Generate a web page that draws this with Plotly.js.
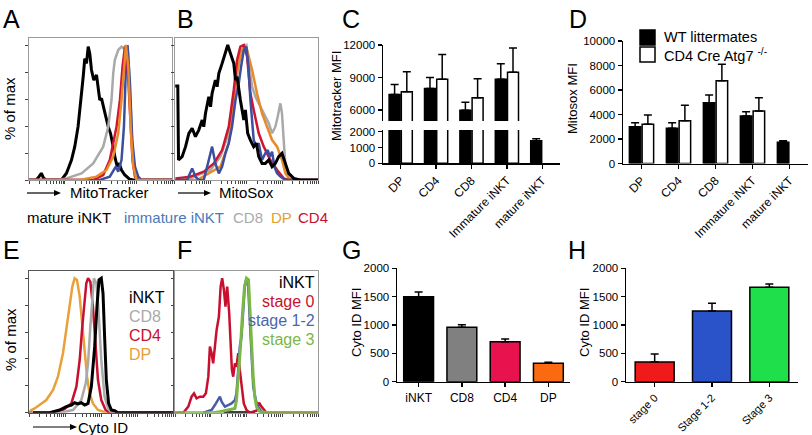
<!DOCTYPE html>
<html>
<head>
<meta charset="utf-8">
<script src="https://cdn.plot.ly/plotly-3.0.1.min.js"></script>
<style>
  html, body { margin: 0; padding: 0; background: #fff; }
  #fig { width: 812px; height: 435px; }
</style>
</head>
<body>
<div id="fig"></div>
<script>
// histogram curves: [channel position 0-100, % of max]
var mtMature = [[0,0],[5.1,0],[7,2.5],[8.6,5],[10.3,1.2],[12.1,0],[22.7,0],[26.2,5],[29.7,14.8],[32,24.7],[34.3,39.5],[36.7,61.7],[37.9,76.5],[39,90],[40.2,86.4],[41.4,98.8],[42.5,93.8],[43.7,81.5],[45.3,74],[47.2,77.8],[48.4,66.7],[49.5,59.3],[50.7,60.5],[52.3,51.9],[53.7,46.9],[55.4,39.5],[57,34.6],[58.9,24.7],[60,17.3],[61.7,9.9],[63.1,12.3],[64.7,7.4],[67,3.7],[70.5,0.5],[72.9,0],[100,0]];
var mtCD8 = [[0,0],[20,0],[26.2,1.2],[36.7,4.9],[44.9,12.3],[51.9,24.7],[55.4,39.5],[57.7,59.3],[58.9,79],[60,88.9],[62.4,96.3],[64.7,98.8],[66.4,97.5],[67.8,100],[69.4,93.8],[71,59.3],[72.4,22.2],[74.1,4.9],[76.4,0],[100,0]];
var mtImmature = [[0,0],[49.5,0],[56.5,2.5],[58.9,7.4],[60.7,9.9],[62.4,6.2],[64.7,14.8],[66.4,39.5],[67.8,84],[68.9,100],[70.6,71.6],[72.2,29.6],[74.1,9.9],[76.4,2.5],[78.7,0],[100,0]];
var mtCD4 = [[0,0],[44.9,0],[51.9,3.7],[56.5,14.8],[61.2,39.5],[63.6,59.3],[65.4,84],[67.1,98.8],[68.7,88.9],[70.6,46.9],[72.4,14.8],[74.1,2.5],[76.4,0],[100,0]];
var mtDP = [[0,0],[35.5,0],[47.2,2.5],[54.2,7.4],[58.9,17.3],[62.4,34.6],[64.7,59.3],[66.4,84],[67.8,100],[69.4,84],[71.3,34.6],[72.9,9.9],[75.2,0],[100,0]];

var msMature = [[0.5,69.6],[2.3,69.6],[2.8,14.8],[5.3,17.3],[7.7,24.7],[10,34.6],[12.3,38.3],[14.6,32.1],[16.9,37],[19.3,44.4],[20.4,39.5],[21.6,49.4],[23.9,61.7],[25.1,54.3],[26.2,64.2],[28.5,74.1],[29.7,69.1],[30.9,79],[33.2,86.4],[35.5,93.8],[37.1,100],[39,93.8],[41.3,86.4],[42.5,74.1],[43.6,76.5],[45.9,59.3],[48.3,44.4],[49.4,51.9],[51,34.6],[52.9,29.6],[55.2,24.7],[57.1,27.2],[58.7,17.3],[61,12.3],[63.3,12.3],[65.7,14.8],[68,9.9],[70.3,12.3],[72.6,17.3],[74.9,19.8],[77.3,12.3],[79.6,4.9],[83.1,1.2],[87.7,0],[100,0]];
var msCD8 = [[0,0],[11.1,1.2],[25.1,7.4],[32,17.3],[37.8,34.6],[41.3,59.3],[43.6,79],[45.9,91.4],[48.3,98.8],[50.1,100],[51.7,88.9],[54.1,69.1],[56.4,61.7],[58.7,56.8],[61,51.9],[63.3,46.9],[65.7,42],[68,34.6],[70.3,39.5],[71.9,46.9],[73.8,56.8],[74.9,49.4],[76.1,29.6],[77.3,9.9],[79.6,1.2],[83.1,0],[100,0]];
var msDP = [[0,0],[15.8,0],[32,9.9],[37.8,27.2],[41.3,54.3],[43.6,79],[45.9,93.8],[48.3,98.8],[50.6,96.3],[54.1,81.5],[57.5,64.2],[61,49.4],[64.5,39.5],[68,29.6],[71.5,24.7],[74.9,14.8],[77.3,4.9],[80.7,0],[100,0]];
var msCD4 = [[0.7,1.2],[11.1,2.5],[20.4,6.2],[27.4,12.3],[33.2,22.2],[37.8,39.5],[41.3,66.7],[43.6,88.9],[45.9,98.8],[48.3,100],[50.6,91.4],[52.9,64.2],[55.2,51.9],[58.7,34.6],[62.2,24.7],[66.8,14.8],[71.5,7.4],[76.1,1.2],[79.6,0],[100,0]];
var msImmature = [[0.7,0],[8.8,0],[12.3,8.6],[14.6,2.5],[16.9,0],[20.4,0],[23.9,14.8],[26.2,24.7],[28.5,12.3],[30.9,4.9],[33.2,9.9],[35.5,19.8],[37.8,27.2],[40.1,39.5],[42.5,59.3],[44.8,71.6],[46.4,84],[48.3,96.3],[50.1,98.8],[51.5,84],[52.9,59.3],[54.1,44.4],[55.2,29.6],[57.1,24.7],[58.7,27.2],[61,14.8],[63.3,19.8],[65,22.2],[66.4,17.3],[68,21],[69.6,9.9],[71.5,4.9],[73.8,2.5],[77.3,0],[100,0]];

var cyDP = [[0,0],[1.6,2],[3.9,3.2],[7.4,5.7],[12,9.4],[16.7,16.9],[20.1,26.8],[23.6,44.2],[25.9,61.5],[28.2,78.9],[30.1,93.8],[31.7,100],[33.3,98.8],[35.2,86.4],[37,66.5],[38.7,44.2],[40.3,26.8],[42.1,14.4],[44.4,6.9],[47.9,2],[53.7,0],[100,0]];
var cyCD4 = [[0,0],[14.4,0],[23.6,2],[29.4,6.9],[32.9,19.4],[35.2,39.2],[37,64],[38.7,83.9],[39.8,96.3],[41,100],[42.6,97.5],[44.4,78.9],[46.3,44.2],[47.9,24.3],[50.2,9.4],[53.2,2],[56,0],[100,0]];
var cyCD8 = [[0,0],[21.3,0],[30.6,2],[36.3,9.4],[39.4,21.8],[41,36.7],[42.6,64],[44,88.8],[45.1,100],[46.8,96.3],[48.1,78.9],[50.2,39.2],[52.5,11.9],[54.9,3.2],[57.2,0],[100,0]];
var cyINKT = [[2.8,0],[14.4,0],[21.3,2],[25.9,4.5],[29.4,5.7],[31.7,7.4],[34,6.5],[36.3,7.4],[38.7,5.7],[41,6.9],[43.3,19.4],[45.6,49.1],[47.2,78.9],[48.6,98.8],[50.2,100],[51.4,88.8],[52.5,56.6],[53.7,24.3],[55.3,6.9],[57.2,2],[59.5,1.5],[61.8,0],[100,0]];

var stStage0 = [[0,0],[5.8,0],[9.3,4.5],[11.6,11.9],[13.3,14.4],[15.1,10.7],[17.4,11.9],[19.8,11.9],[21.6,14.4],[23.3,26.8],[24.4,49.1],[25.6,44.2],[26.7,36.7],[27.9,49.1],[29.1,61.5],[30.7,71.5],[31.9,93.8],[33,100],[34.2,91.3],[35.3,78.9],[36.5,93.8],[37.9,73.9],[38.8,56.6],[39.8,31.8],[40.7,26.8],[41.9,36.7],[43,34.2],[44.2,44.2],[45.3,31.8],[46.5,19.4],[48.1,6.9],[50,2],[52.3,0],[57,1.5],[58.8,7.4],[60.5,4.5],[61.6,3.2],[64,0],[100,0]];
var stStage12 = [[19.8,0],[25.6,2],[27.9,5.7],[30.2,9.4],[31.4,11.9],[32.6,8.2],[34.9,4.5],[37.2,5.7],[39.5,6.9],[41.9,9.4],[43,14.4],[44.2,31.8],[45.3,49.1],[46.5,56.6],[47.7,73.9],[48.8,93.8],[50,100],[51.2,93.8],[52.3,69],[53.5,39.2],[54.7,19.4],[56.5,9.4],[58.1,4.5],[60.5,0.7],[64,0]];
var stStage3 = [[0,0],[26.7,0],[31.4,0.7],[36,2],[39.5,2.5],[41.9,3.2],[43,9.4],[44.2,24.3],[45.8,49.1],[47.2,73.9],[48.6,93.8],[50,100],[51.4,98.8],[52.3,78.9],[53.5,49.1],[54.7,26.8],[55.8,11.9],[57,4.5],[59.3,0.7],[66.3,0],[100,0]];
var stINKT = [[34,0],[56,0]];

// bar data
var cellTypes = ['DP', 'CD4', 'CD8', 'Immature iNKT', 'mature iNKT'];
var mitotrackerWT = [7450, 8000, 6000, 8860, 1430];
var mitotrackerWTErr = [920, 1020, 740, 1420, 130];
var mitotrackerKO = [7690, 8860, 7140, 9510, null];
var mitotrackerKOErr = [1850, 2280, 1760, 2240, 0];
var mitosoxWT = [3000, 2870, 4960, 3880, 1730];
var mitosoxWTErr = [330, 460, 630, 350, 130];
var mitosoxKO = [3200, 3490, 6760, 4290, null];
var mitosoxKOErr = [760, 1260, 1340, 1080, 0];
var cytoCells = ['iNKT', 'CD8', 'CD4', 'DP'];
var cytoCellMFI = [1500, 960, 705, 325];
var cytoCellErr = [82, 45, 48, 17];
var cytoCellColors = ['#000000', '#808080', '#e8124e', '#fb6a10'];
var stages = ['stage 0', 'Stage 1-2', 'Stage 3'];
var stageMFI = [347, 1247, 1665];
var stageErr = [142, 136, 58];
var stageColors = ['#f01a1a', '#2a52c9', '#1fe04a'];

var FONT = 'Arial, "Liberation Sans", sans-serif';
var W = 812, H = 435;
function px(p) { return p / W; }
function py(p) { return 1 - p / H; }

function curve(pts, color, width, xa, ya) {
  return {
    x: pts.map(function (p) { return p[0]; }),
    y: pts.map(function (p) { return p[1]; }),
    type: 'scatter', mode: 'lines',
    line: { color: color, width: width },
    xaxis: xa, yaxis: ya, hoverinfo: 'skip', showlegend: false
  };
}

function bars(cats, vals, errs, fill, xa, ya, width) {
  var t = {
    x: cats, y: vals, type: 'bar',
    marker: { color: fill, line: { color: '#000', width: 1.5 } },
    error_y: { type: 'data', symmetric: false, array: errs,
               arrayminus: errs.map(function () { return 0; }),
               color: '#000', thickness: 1.5, width: 4 },
    xaxis: xa, yaxis: ya, hoverinfo: 'skip', showlegend: false
  };
  if (width) t.width = width;
  return t;
}

var data = [
  curve(mtMature, '#000', 3, 'x', 'y'),
  curve(mtCD8, '#a9a9a9', 2.5, 'x', 'y'),
  curve(mtImmature, '#3c4e9f', 2.5, 'x', 'y'),
  curve(mtCD4, '#cf1530', 2.5, 'x', 'y'),
  curve(mtDP, '#e8892a', 2.5, 'x', 'y'),

  curve(msCD8, '#a9a9a9', 2.5, 'x2', 'y2'),
  curve(msDP, '#e8892a', 2.5, 'x2', 'y2'),
  curve(msCD4, '#cf1530', 2.5, 'x2', 'y2'),
  curve(msImmature, '#3c4e9f', 2.5, 'x2', 'y2'),
  curve(msMature, '#000', 3, 'x2', 'y2'),

  bars(cellTypes, mitotrackerWT, mitotrackerWTErr, '#000', 'x3', 'y3'),
  bars(cellTypes, mitotrackerKO, mitotrackerKOErr, '#fff', 'x3', 'y3'),
  bars(cellTypes, mitotrackerWT, mitotrackerWTErr, '#000', 'x3', 'y4'),
  bars(cellTypes, mitotrackerKO, mitotrackerKOErr, '#fff', 'x3', 'y4'),

  bars(cellTypes, mitosoxWT, mitosoxWTErr, '#000', 'x5', 'y5'),
  bars(cellTypes, mitosoxKO, mitosoxKOErr, '#fff', 'x5', 'y5'),

  curve(cyDP, '#e9a03a', 2.5, 'x6', 'y6'),
  curve(cyCD4, '#c8102e', 2.5, 'x6', 'y6'),
  curve(cyCD8, '#a9a9a9', 2.5, 'x6', 'y6'),
  curve(cyINKT, '#000', 3, 'x6', 'y6'),

  curve(stINKT, '#000', 3, 'x7', 'y7'),
  curve(stStage0, '#c8102e', 2.5, 'x7', 'y7'),
  curve(stStage12, '#4a5ca8', 2.5, 'x7', 'y7'),
  curve(stStage3, '#7ab648', 3, 'x7', 'y7'),

  bars(cytoCells, cytoCellMFI, cytoCellErr, cytoCellColors, 'x8', 'y8', 0.69),
  bars(stages, stageMFI, stageErr, stageColors, 'x9', 'y9', 0.68)
];

// log-like decade ticks for the flow axes
var logTicks = [];
[0, 25, 50, 75].forEach(function (d) {
  for (var k = 1; k <= 9; k++) logTicks.push(d + 25 * Math.log10(k));
});
logTicks.push(100);

function histX(x0, x1, anchor, lc) {
  return { domain: [px(x0), px(x1)], range: [0, 100], anchor: anchor,
    showline: true, mirror: true, linecolor: lc, linewidth: 1,
    ticks: 'outside', ticklen: 3, tickcolor: '#444', tickwidth: 1,
    tickmode: 'array', tickvals: logTicks, showticklabels: false,
    showgrid: false, zeroline: false, fixedrange: true };
}
function histY(y0, y1, top, anchor, lc) {
  return { domain: [py(y1), py(y0)], range: [0, top], anchor: anchor,
    showline: true, mirror: true, linecolor: lc, linewidth: 1,
    ticks: 'outside', ticklen: 3, tickcolor: '#444', tickwidth: 1,
    tickmode: 'array', tickvals: [0, 20, 40, 60, 80, 100], showticklabels: false,
    showgrid: false, zeroline: false, fixedrange: true };
}
function barX(x0, x1, anchor, angle, size) {
  return { domain: [px(x0), px(x1)], anchor: anchor, type: 'category',
    showline: true, linecolor: '#000', linewidth: 1.5,
    ticks: 'outside', ticklen: 4, tickcolor: '#000', tickwidth: 1.5,
    tickangle: angle, tickfont: { family: FONT, size: size || 12, color: '#000' },
    showgrid: false, zeroline: false, fixedrange: true };
}
function barY(y0, y1, range, vals, anchor) {
  return { domain: [py(y1), py(y0)], range: range, anchor: anchor,
    showline: true, linecolor: '#000', linewidth: 1.5,
    ticks: 'outside', ticklen: 4, tickcolor: '#000', tickwidth: 1.5,
    tickmode: 'array', tickvals: vals, tickformat: 'd', ticklabelstandoff: 0,
    tickfont: { family: FONT, size: 11.5, color: '#000' },
    showgrid: false, zeroline: false, fixedrange: true };
}

var ann = [];
var shapes = [];
function label(t, x, y, size, color, opts) {
  var a = { text: t, x: px(x), y: py(y), xref: 'paper', yref: 'paper',
    showarrow: false, xanchor: 'left', yanchor: 'middle',
    font: { family: FONT, size: size, color: color || '#000' } };
  for (var k in (opts || {})) a[k] = opts[k];
  ann.push(a);
}
// axis direction arrow drawn as a line plus a filled head
function arrow(x0, x1, y) {
  shapes.push({ type: 'line', xref: 'paper', yref: 'paper',
    x0: px(x0), x1: px(x1 - 5), y0: py(y), y1: py(y),
    line: { color: '#000', width: 1.2 } });
  shapes.push({ type: 'path', xref: 'paper', yref: 'paper',
    path: 'M ' + px(x1) + ' ' + py(y) + ' L ' + px(x1 - 7) + ' ' + py(y - 3) +
          ' L ' + px(x1 - 7) + ' ' + py(y + 3) + ' Z',
    fillcolor: '#000', line: { width: 0 } });
}

// panel letters
label('A', 1, 19, 25); label('B', 175, 19, 25); label('C', 340, 19, 25); label('D', 567, 19, 25);
label('E', 1, 250, 25); label('F', 175, 250, 25); label('G', 340, 250, 25); label('H', 566, 250, 25);

// flow panel titles
label('% of max', 10, 109, 15, '#000', { textangle: -90, xanchor: 'center' });
label('% of max', 10, 340, 15, '#000', { textangle: -90, xanchor: 'center' });
arrow(27, 61, 193); label('MitoTracker', 68, 193, 15);
arrow(178, 211, 193); label('MitoSox', 217, 193, 15);
arrow(33, 77, 427); label('Cyto ID', 76, 427, 15);

// A/B colour key
label('mature iNKT', 25, 217, 15, '#000');
label('immature iNKT', 122, 217, 15, '#4a78b8');
label('CD8', 231, 217, 15, '#aaaaaa');
label('DP', 269, 217, 15, '#e2a030');
label('CD4', 296, 217, 15, '#c8102e');

// E key
label('iNKT', 127, 297, 16, '#000');
label('CD8', 127, 316, 16, '#a9a9a9');
label('CD4', 127, 335, 16, '#c8102e');
label('DP', 127, 354, 16, '#e9a03a');

// F key
label('iNKT', 317, 282, 16, '#000', { xanchor: 'right' });
label('stage 0', 317, 301, 16, '#c8102e', { xanchor: 'right' });
label('stage 1-2', 317, 320, 16, '#4a66ac', { xanchor: 'right' });
label('stage 3', 317, 339, 16, '#7ab648', { xanchor: 'right' });

// bar axis titles
label('Mitotracker MFI', 336, 96, 13, '#000', { textangle: -90, xanchor: 'center' });
label('Mitosox MFI', 572, 99, 13, '#000', { textangle: -90, xanchor: 'center' });
label('Cyto ID MFI', 356, 323, 13, '#000', { textangle: -90, xanchor: 'center' });
label('Cyto ID MFI', 584, 323, 13, '#000', { textangle: -90, xanchor: 'center' });

// D key
label('WT littermates', 662, 37, 14.5);
label('CD4 Cre Atg7 <sup>-/-</sup>', 662, 55, 14.5);
shapes.push({ type: 'rect', xref: 'paper', yref: 'paper', x0: px(640), x1: px(655), y0: py(45), y1: py(30),
  fillcolor: '#000', line: { color: '#000', width: 1.5 } });
shapes.push({ type: 'rect', xref: 'paper', yref: 'paper', x0: px(640), x1: px(655), y0: py(62), y1: py(47),
  fillcolor: '#fff', line: { color: '#000', width: 1.5 } });

var layout = {
  width: W, height: H,
  margin: { l: 0, r: 0, t: 0, b: 0 },
  paper_bgcolor: '#fff', plot_bgcolor: 'rgba(0,0,0,0)',
  font: { family: FONT, color: '#000' },
  showlegend: false,
  barmode: 'group', bargap: 0.31, bargroupgap: 0.1,
  xaxis: histX(29, 172, 'y', '#9a9a9a'),
  yaxis: histY(38.3, 180, 105, 'x', '#9a9a9a'),
  xaxis2: histX(174.5, 318, 'y2', '#9a9a9a'),
  yaxis2: histY(38.3, 180, 105, 'x2', '#9a9a9a'),
  xaxis3: barX(383, 560, 'y3', -45),
  yaxis3: barY(130.1, 163.3, [0, 2100], [0, 1000, 2000], 'x3'),
  yaxis4: barY(45.2, 121, [5000, 12000], [6000, 9000, 12000], 'x3'),
  xaxis5: barX(623, 808, 'y5', -45),
  yaxis5: barY(41, 163.5, [0, 10000], [0, 2000, 4000, 6000, 8000, 10000], 'x5'),
  xaxis6: histX(29, 173, 'y6', '#555'),
  yaxis6: histY(271, 412.7, 105.4, 'x6', '#555'),
  xaxis7: histX(175, 318, 'y7', '#9a9a9a'),
  yaxis7: histY(271, 412.7, 105.4, 'x7', '#9a9a9a'),
  xaxis8: barX(397, 570, 'y8', 0),
  yaxis8: barY(268.3, 381.7, [0, 2000], [0, 500, 1000, 1500, 2000], 'x8'),
  xaxis9: barX(626, 798, 'y9', -45, 11),
  yaxis9: barY(268.3, 381.7, [0, 2000], [0, 500, 1000, 1500, 2000], 'x9'),
  annotations: ann,
  shapes: shapes
};

Plotly.newPlot('fig', data, layout, { staticPlot: true, displayModeBar: false });
</script>
</body>
</html>
